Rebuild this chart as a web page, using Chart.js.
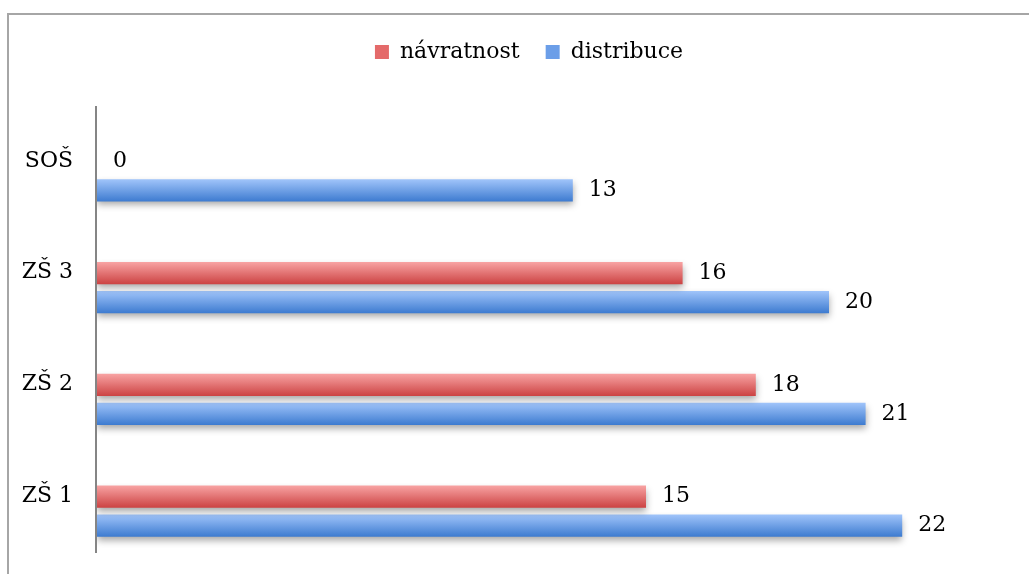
<!DOCTYPE html>
<html>
<head>
<meta charset="utf-8">
<script src="https://cdn.jsdelivr.net/npm/chart.js@4"></script>
<style>
  body { margin: 0; overflow: hidden; background: #fff; }
  #frame { position: absolute; left: 7px; top: 13px; width: 1100px; height: 700px;
           border-left: 2px solid #a6a6a6; border-top: 2px solid #a6a6a6; }
  #wrap { position: absolute; left: 0; top: 0; width: 1029px; height: 574px; }
</style>
</head>
<body>
<div id="frame"></div>
<div id="wrap"><canvas id="BarChart"></canvas></div>
<script>
const labels = ['SOŠ', 'ZŠ 3', 'ZŠ 2', 'ZŠ 1'];
const navratnost = [0, 16, 18, 15];
const distribuce = [13, 20, 21, 22];

const CAT_PCT = 0.52;
const BAR_PCT = 0.76;

Chart.defaults.font.family = '"DejaVu Serif", serif';
Chart.defaults.font.size = 22;
Chart.defaults.color = '#000';

// vertical gradient per bar, like the glossy office bars
function barFill(top, bottom) {
  return function (c) {
    const chart = c.chart;
    const y = chart.scales.y;
    if (c.type !== 'data' || !y || !chart.chartArea) return bottom;
    const cat = y.height / labels.length;
    const slot = cat * CAT_PCT / 2;
    const mid = y.getPixelForValue(c.dataIndex) - cat * CAT_PCT / 2 + slot * (c.datasetIndex + 0.5);
    const h = slot * BAR_PCT / 2;
    const g = chart.ctx.createLinearGradient(0, mid - h, 0, mid + h);
    g.addColorStop(0, top);
    g.addColorStop(1, bottom);
    return g;
  };
}

const legendColors = ['#e46a6a', '#6b9ee8'];

const legendBox = {
  id: 'legendBox',
  beforeLayout(chart) {
    const lg = chart.legend;
    if (lg && !lg._fixed) {
      const fit = lg.fit;
      lg.fit = function () { fit.call(this); this.height = 105; };
      lg._fixed = true;
    }
  },
  afterLayout(chart) {
    // legend sits a bit right of the middle in the original
    chart.legend.left += 16;
    chart.legend.right += 16;
  }
};

const barShadow = {
  id: 'barShadow',
  beforeDatasetsDraw(chart) {
    const ctx = chart.ctx;
    ctx.save();
    ctx.shadowColor = 'rgba(0,0,0,0.35)';
    ctx.shadowBlur = 7;
    ctx.shadowOffsetY = 4;
  },
  afterDatasetsDraw(chart) {
    chart.ctx.restore();
  }
};

const valueLabels = {
  id: 'valueLabels',
  afterDatasetsDraw(chart) {
    const ctx = chart.ctx;
    ctx.save();
    ctx.font = '22px "DejaVu Serif", serif';
    ctx.fillStyle = '#000';
    ctx.textAlign = 'left';
    ctx.textBaseline = 'middle';
    chart.data.datasets.forEach((ds, i) => {
      chart.getDatasetMeta(i).data.forEach((bar, j) => {
        ctx.fillText(String(ds.data[j]), bar.x + 16, bar.y);
      });
    });
    ctx.restore();
  }
};

const axisLine = {
  id: 'axisLine',
  afterDraw(chart) {
    const a = chart.chartArea;
    const ctx = chart.ctx;
    ctx.save();
    ctx.strokeStyle = '#858585';
    ctx.lineWidth = 2;
    ctx.beginPath();
    ctx.moveTo(a.left - 1, a.top - 14);
    ctx.lineTo(a.left - 1, a.bottom - 14);
    ctx.stroke();
    ctx.restore();
  }
};

const barChart = new Chart(document.getElementById('BarChart'), {
  type: 'bar',
  data: {
    labels: labels,
    datasets: [{
      label: 'návratnost',
      data: navratnost,
      backgroundColor: barFill('#f8a3a3', '#cc4343'),
      categoryPercentage: CAT_PCT,
      barPercentage: BAR_PCT
    }, {
      label: 'distribuce',
      data: distribuce,
      backgroundColor: barFill('#a0c4fa', '#3d7bd0'),
      categoryPercentage: CAT_PCT,
      barPercentage: BAR_PCT
    }]
  },
  options: {
    indexAxis: 'y',
    responsive: true,
    maintainAspectRatio: false,
    animation: false,
    layout: { padding: { left: 14, right: 17, top: 15, bottom: 7 } },
    scales: {
      x: { display: false, min: 0, max: 25 },
      y: {
        grid: { display: false },
        border: { display: false },
        ticks: { padding: 16, labelOffset: -15, color: '#000' },
        afterFit: s => {
          s.width = 83;
          s.paddingTop = 0;
          s.paddingBottom = 0;
        }
      }
    },
    plugins: {
      tooltip: { enabled: false },
      legend: {
        position: 'top',
        labels: {
          boxWidth: 14,
          boxHeight: 14,
          padding: 26,
          color: '#000',
          generateLabels: chart => chart.data.datasets.map((ds, i) => ({
            text: ds.label,
            fillStyle: legendColors[i],
            strokeStyle: legendColors[i],
            lineWidth: 0,
            hidden: !chart.isDatasetVisible(i),
            datasetIndex: i
          }))
        }
      }
    }
  },
  plugins: [legendBox, barShadow, valueLabels, axisLine]
});
</script>
</body>
</html>
